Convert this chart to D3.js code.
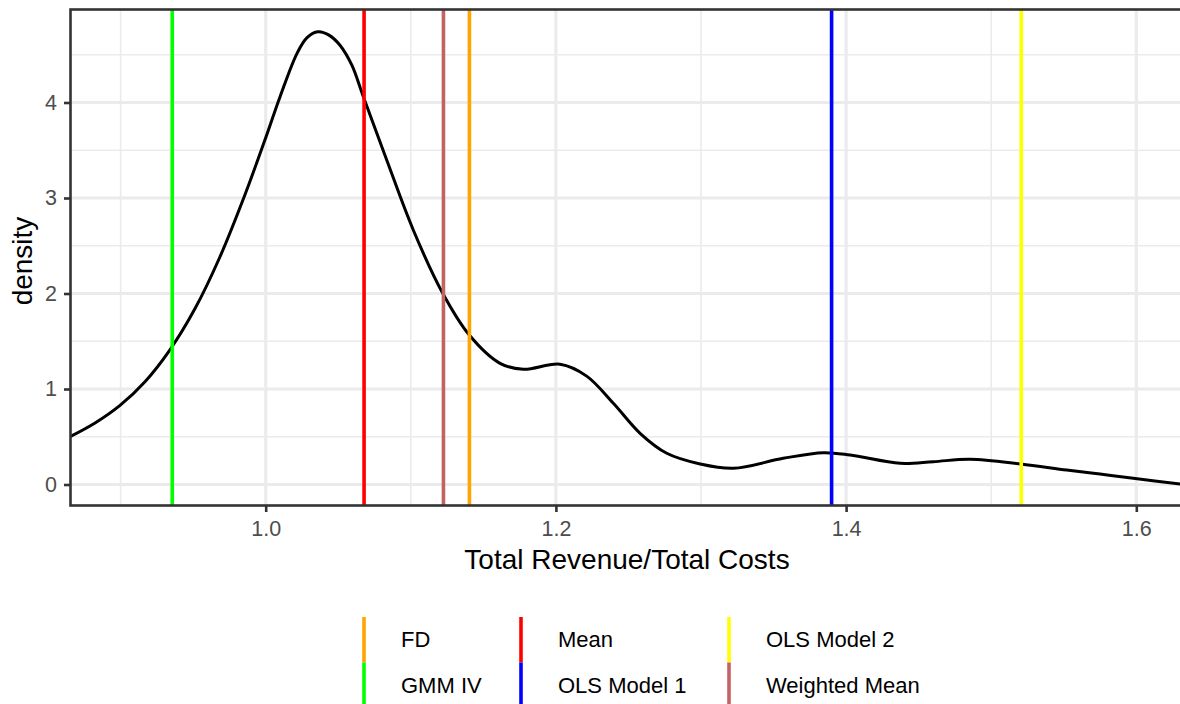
<!DOCTYPE html>
<html>
<head>
<meta charset="utf-8">
<script src="https://cdn.jsdelivr.net/npm/d3@7/dist/d3.min.js"></script>
<style>
  html, body { margin: 0; padding: 0; background: #fff; }
  svg { display: block; font-family: "Liberation Sans", Arial, Helvetica, sans-serif; }
</style>
</head>
<body>
<svg id="chart" width="1180" height="704"></svg>
<script>
// Kernel density of Total Revenue / Total Costs
const ratioX = [0.8651, 0.8824, 0.8996, 0.9168, 0.9340, 0.9513, 0.9685, 0.9857, 0.9995, 1.0099,
                1.0216, 1.0285, 1.0360, 1.0436, 1.0512, 1.0593, 1.0673, 1.0834, 1.1017, 1.1220,
                1.1403, 1.1615, 1.1775, 1.2028, 1.2212, 1.2396, 1.2580, 1.2764, 1.2994, 1.3223,
                1.3567, 1.3843, 1.4027, 1.4372, 1.4601, 1.4854, 1.5203, 1.5520, 1.5750, 1.5979,
                1.6322];
const densityY = [0.500, 0.644, 0.828, 1.076, 1.410, 1.842, 2.385, 3.034, 3.609, 4.061,
                  4.515, 4.679, 4.741, 4.706, 4.600, 4.393, 4.061, 3.398, 2.665, 2.002,
                  1.565, 1.269, 1.206, 1.259, 1.135, 0.850, 0.536, 0.327, 0.215, 0.170,
                  0.274, 0.333, 0.309, 0.222, 0.239, 0.264, 0.215, 0.152, 0.110, 0.065,
                  0.002];

// Estimates shown as vertical reference lines
const estimateNames  = ["FD", "GMM IV", "Mean", "OLS Model 1", "OLS Model 2", "Weighted Mean"];
const estimateValues = [1.1404, 0.9356, 1.0678, 1.3900, 1.5207, 1.1225];
const estimateColors = ["#FFA500", "#00FF00", "#FF0000", "#0000FF", "#FFFF00", "#C46262"];

const xTicks = [1.0, 1.2, 1.4, 1.6];
const xMinor = [0.9, 1.1, 1.3, 1.5];
const yTicks = [0, 1, 2, 3, 4];
const yMinor = [0.5, 1.5, 2.5, 3.5, 4.5];

const svg = d3.select("#chart");
const panel = { left: 70.5, right: 1183, top: 9.5, bottom: 505.5 };

const x = d3.scaleLinear()
  .domain([1.0 - (265.7 - panel.left) / 1451, 1.6 + (panel.right - 1136.3) / 1451])
  .range([panel.left, panel.right]);
const y = d3.scaleLinear()
  .domain([(484.5 - panel.bottom) / 95.5, (484.5 - panel.top) / 95.5])
  .range([panel.bottom, panel.top]);

svg.append("defs").append("clipPath").attr("id", "panel-clip")
  .append("rect")
  .attr("x", panel.left).attr("y", panel.top)
  .attr("width", panel.right - panel.left).attr("height", panel.bottom - panel.top);

const grid = svg.append("g");
// minor grid
grid.selectAll(".xminor").data(xMinor).join("line")
  .attr("x1", d => x(d)).attr("x2", d => x(d))
  .attr("y1", panel.top).attr("y2", panel.bottom)
  .attr("stroke", "#EBEBEB").attr("stroke-width", 1.6);
grid.selectAll(".yminor").data(yMinor).join("line")
  .attr("y1", d => y(d)).attr("y2", d => y(d))
  .attr("x1", panel.left).attr("x2", panel.right)
  .attr("stroke", "#EBEBEB").attr("stroke-width", 1.6);
// major grid
grid.selectAll(".xmajor").data(xTicks).join("line")
  .attr("x1", d => x(d)).attr("x2", d => x(d))
  .attr("y1", panel.top).attr("y2", panel.bottom)
  .attr("stroke", "#EBEBEB").attr("stroke-width", 3.2);
grid.selectAll(".ymajor").data(yTicks).join("line")
  .attr("y1", d => y(d)).attr("y2", d => y(d))
  .attr("x1", panel.left).attr("x2", panel.right)
  .attr("stroke", "#EBEBEB").attr("stroke-width", 3.2);

const plot = svg.append("g").attr("clip-path", "url(#panel-clip)");

// density curve
plot.append("path")
  .datum(ratioX.map((v, i) => [v, densityY[i]]))
  .attr("fill", "none")
  .attr("stroke", "#000")
  .attr("stroke-width", 3)
  .attr("d", d3.line().x(d => x(d[0])).y(d => y(d[1])).curve(d3.curveCatmullRom.alpha(0.5)));

// reference lines
plot.selectAll(".vline").data(estimateValues).join("line")
  .attr("x1", d => x(d)).attr("x2", d => x(d))
  .attr("y1", panel.top).attr("y2", panel.bottom)
  .attr("stroke", (d, i) => estimateColors[i])
  .attr("stroke-width", 3.6);

// panel border
svg.append("rect")
  .attr("x", panel.left).attr("y", panel.top)
  .attr("width", panel.right - panel.left).attr("height", panel.bottom - panel.top)
  .attr("fill", "none").attr("stroke", "#333333").attr("stroke-width", 2.6);

// axes
const xAxis = svg.append("g")
  .attr("transform", `translate(0,${panel.bottom})`)
  .call(d3.axisBottom(x).tickValues(xTicks).tickFormat(d3.format(".1f")).tickSize(6.5).tickPadding(9));
const yAxis = svg.append("g")
  .attr("transform", `translate(${panel.left},0)`)
  .call(d3.axisLeft(y).tickValues(yTicks).tickFormat(d3.format("d")).tickSize(6.5).tickPadding(7));
[xAxis, yAxis].forEach(a => {
  a.select(".domain").remove();
  a.selectAll(".tick line").attr("stroke", "#333333").attr("stroke-width", 2.6);
  a.selectAll(".tick text").attr("fill", "#4D4D4D").style("font-size", "21.5px")
    .style("font-family", "'Liberation Sans', Arial, sans-serif");
});

// axis titles
svg.append("text")
  .attr("x", 627).attr("y", 569)
  .attr("text-anchor", "middle")
  .style("font-size", "28px")
  .attr("fill", "#000")
  .text("Total Revenue/Total Costs");
svg.append("text")
  .attr("transform", "translate(32,261) rotate(-90)")
  .attr("text-anchor", "middle")
  .style("font-size", "28px")
  .attr("fill", "#000")
  .text("density");

// legend: 3 columns x 2 rows, filled by column
const legendColX = [364, 521, 729];
const legendTop = 617;
const rowH = 45.5;
const legend = svg.append("g");
estimateNames.forEach((name, i) => {
  const col = Math.floor(i / 2), row = i % 2;
  const kx = legendColX[col];
  const ky = legendTop + row * rowH;
  legend.append("line")
    .attr("x1", kx).attr("x2", kx)
    .attr("y1", ky).attr("y2", ky + rowH)
    .attr("stroke", estimateColors[i]).attr("stroke-width", 3.6);
  legend.append("text")
    .attr("x", kx + 37).attr("y", ky + rowH / 2)
    .attr("dy", "0.35em")
    .style("font-size", "22px")
    .attr("fill", "#000")
    .text(name);
});
</script>
</body>
</html>
